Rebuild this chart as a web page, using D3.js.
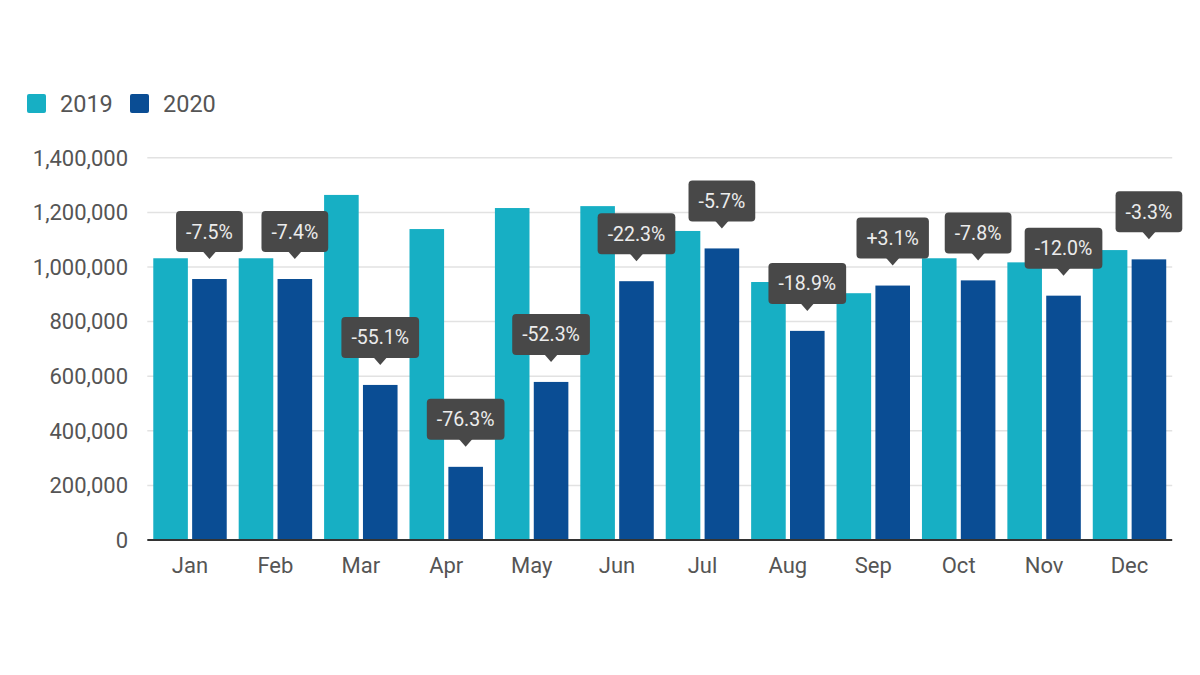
<!DOCTYPE html>
<html><head><meta charset="utf-8">
<script src="https://cdn.jsdelivr.net/npm/d3@7/dist/d3.min.js"></script>
<style>
html,body{margin:0;padding:0;background:#fff;}
svg{display:block;font-family:Roboto, "Noto Sans", sans-serif;}
</style></head>
<body><svg id="c" width="1200" height="675"></svg>
<script>
const months = ["Jan","Feb","Mar","Apr","May","Jun","Jul","Aug","Sep","Oct","Nov","Dec"];
const seriesNames = ["2019","2020"];
const values2019 = [1032000,1032000,1264000,1139000,1216000,1223000,1132000,945000,904000,1032000,1017000,1062000];
const values2020 = [956000,956000,568000,268000,579000,948000,1068000,766000,932000,951000,895000,1028000];
const changeLabels = ["-7.5%","-7.4%","-55.1%","-76.3%","-52.3%","-22.3%","-5.7%","-18.9%","+3.1%","-7.8%","-12.0%","-3.3%"];
const yTicks = [0,200000,400000,600000,800000,1000000,1200000,1400000];
const colors = {"2019":"#17afc4","2020":"#0a4d94"};

(function(){
const svg = d3.select("#c");
const pLeft = 147.3, pRight = 1172.2, pTop = 157.8, pBottom = 540;

const x0 = d3.scaleBand().domain(months).range([pLeft,pRight]).paddingInner(0.14).paddingOuter(0.07);
const x1 = d3.scaleBand().domain(seriesNames).range([0,x0.bandwidth()]).paddingInner(0.11);
const y = d3.scaleLinear().domain([0,1400000]).range([pBottom,pTop]);

// gridlines
svg.append("g").selectAll("line").data(yTicks.filter(d=>d>0)).join("line")
  .attr("x1",pLeft).attr("x2",pRight)
  .attr("y1",d=>y(d)).attr("y2",d=>y(d))
  .attr("stroke","#e2e2e2").attr("stroke-width",1.5);

// y labels
const fmt = d3.format(",");
svg.append("g").selectAll("text").data(yTicks).join("text")
  .attr("x",128).attr("y",d=>y(d)).attr("dy","0.35em")
  .attr("text-anchor","end").attr("font-size",22).attr("fill","#555")
  .text(d=>fmt(d));

// bars
const data = months.map((m,i)=>({m, v:{"2019":values2019[i],"2020":values2020[i]}, lab:changeLabels[i]}));
const g = svg.append("g").selectAll("g").data(data).join("g")
  .attr("transform",d=>`translate(${x0(d.m)},0)`);
g.selectAll("rect").data(d=>seriesNames.map(s=>({s,v:d.v[s]}))).join("rect")
  .attr("x",d=>x1(d.s)).attr("width",x1.bandwidth())
  .attr("y",d=>y(d.v)).attr("height",d=>pBottom-y(d.v))
  .attr("fill",d=>colors[d.s]);

// x axis line
svg.append("line").attr("x1",pLeft).attr("x2",pRight).attr("y1",pBottom).attr("y2",pBottom)
  .attr("stroke","#333").attr("stroke-width",2);

// x labels
svg.append("g").selectAll("text").data(months).join("text")
  .attr("x",d=>x0(d)+x0.bandwidth()/2).attr("y",565).attr("dy","0.35em")
  .attr("text-anchor","middle").attr("font-size",22).attr("fill","#555")
  .text(d=>d);

// callouts
const cg = svg.append("g");
data.forEach(d=>{
  const cx = x0(d.m)+x1("2020")+x1.bandwidth()/2;
  const tipY = y(d.v["2020"]) - 20;
  const boxBottom = tipY - 7;
  const boxH = 41;
  const grp = cg.append("g");
  const t = grp.append("text").attr("x",cx).attr("y",boxBottom-boxH/2).attr("dy","0.36em")
    .attr("text-anchor","middle").attr("font-size",19.5).attr("fill","#ececec").text(d.lab);
  const w = t.node().getComputedTextLength()+20;
  grp.insert("rect","text").attr("x",cx-w/2).attr("y",boxBottom-boxH).attr("width",w).attr("height",boxH)
    .attr("rx",4).attr("fill","#484848");
  grp.insert("path","text").attr("d",`M${cx-7},${boxBottom-1}L${cx},${tipY}L${cx+7},${boxBottom-1}Z`).attr("fill","#484848");
});

// legend
const legend = svg.append("g");
const legX = [27, 130];
seriesNames.forEach((s,i)=>{
  legend.append("rect").attr("x",legX[i]).attr("y",94).attr("width",19).attr("height",19).attr("rx",2).attr("fill",colors[s]);
  legend.append("text").attr("x",legX[i]+33).attr("y",103.5).attr("dy","0.36em")
    .attr("font-size",23.5).attr("fill","#555").text(s);
});
})();
</script></body></html>
